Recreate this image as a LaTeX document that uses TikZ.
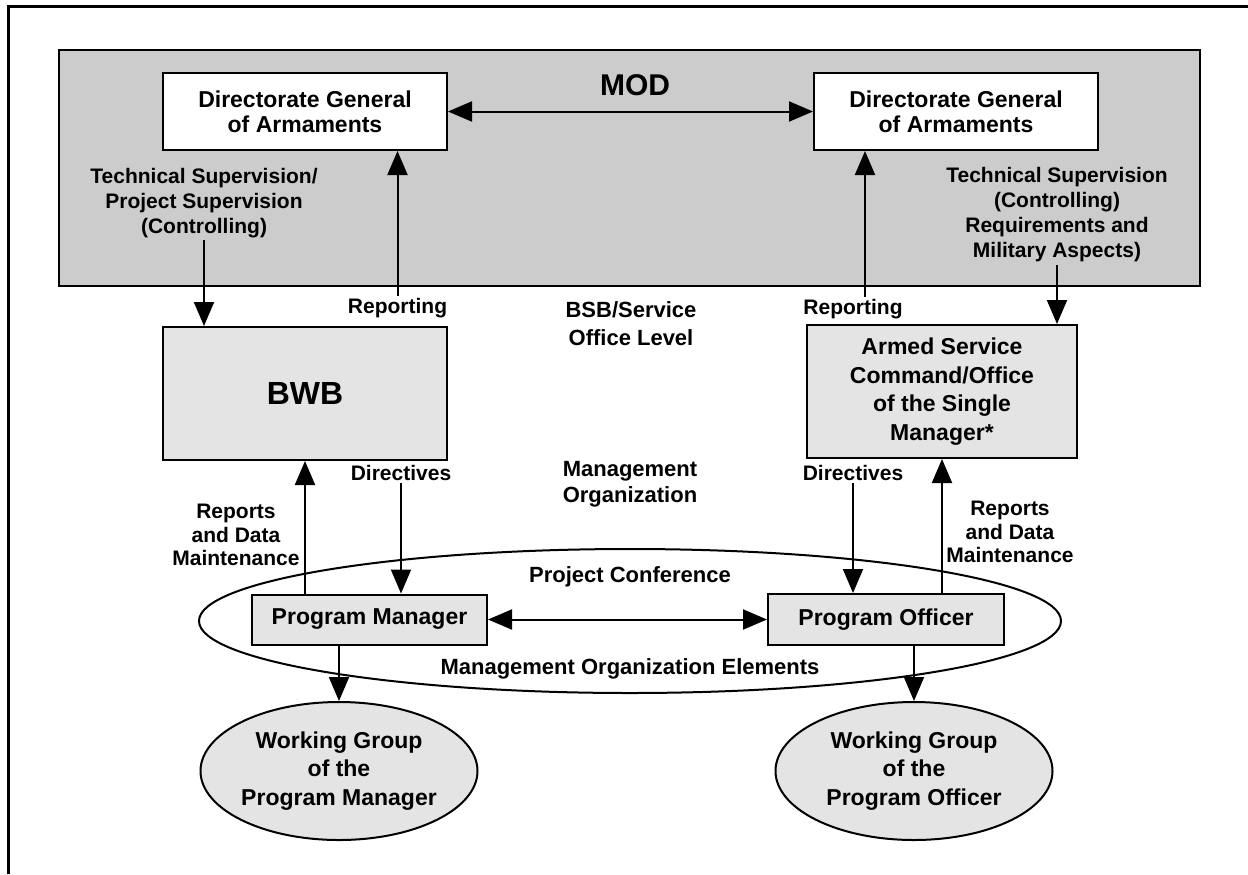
\documentclass[tikz,border=0pt]{standalone}
\usepackage{fontspec}
\setmainfont{Liberation Sans}
\usetikzlibrary{arrows.meta,shapes.geometric}
\definecolor{modgray}{RGB}{204,204,204}
\definecolor{boxgray}{RGB}{228,228,228}

\begin{document}
\begin{tikzpicture}[x=.5pt,y=-.5pt,
    every node/.style={font=\fontsize{10.5}{12.5}\selectfont\bfseries,align=center,inner sep=1pt},
    box/.style={draw,line width=1pt,fill=boxgray,inner sep=2pt,font=\fontsize{11.5}{14.3}\selectfont\bfseries},
    dgabox/.style={box,fill=white,minimum width=142pt,minimum height=38.5pt,font=\fontsize{11.5}{12.5}\selectfont\bfseries},
    group/.style={box,ellipse,minimum width=138.5pt,minimum height=69pt,inner sep=0pt},
    arr/.style={line width=1pt,-{Triangle[length=12pt,width=10pt]}},
    both/.style={line width=1pt,{Triangle[length=12pt,width=10pt]}-{Triangle[length=12pt,width=10pt]}}]
  \useasboundingbox (0,0) rectangle (1248,874);
  \draw[line width=1.5pt] (8,874) -- (8,6) -- (1248,6);

  % ministry level
  \node[draw,line width=1pt,fill=modgray,minimum width=570.5pt,minimum height=118pt,inner sep=0pt] (mod) at (629.5,168) {};
  \node[font=\fontsize{15}{18}\selectfont\bfseries] (modlbl) at (635,85) {MOD};
  \node[dgabox] (dgaL) at (305,111.5) {Directorate General\\of Armaments};
  \node[dgabox] (dgaR) at (956,111.5) {Directorate General\\of Armaments};
  \draw[both] (dgaL.east) -- (dgaR.west);
  \node (tsL) at (204,203) {Technical Supervision/\\Project Supervision\\(Controlling)};
  \node (tsR) at (1057,215) {Technical Supervision\\(Controlling)\\Requirements and\\Military Aspects)};

  % service level
  \node[box,minimum width=142pt,minimum height=66.5pt,font=\fontsize{16}{18}\selectfont\bfseries] (bwb) at (305,393.5) {BWB};
  \node[box,minimum width=135pt,minimum height=66.5pt] (asc) at (942,391.5) {Armed Service\\Command/Office\\of the Single\\Manager*};
  \node (repL) at (397.5,308) {Reporting};
  \node (repR) at (853,309) {Reporting};
  \node[font=\fontsize{11}{14}\selectfont\bfseries] (bsb) at (631,324) {BSB/Service\\Office Level};
  \node[font=\fontsize{11}{13}\selectfont\bfseries] (mgmt) at (630,484) {Management\\Organization};
  \node (dirL) at (401,473) {Directives};
  \node (dirR) at (853,473) {Directives};
  \node[font=\fontsize{10.5}{11.8}\selectfont\bfseries] (rdL) at (236,535) {Reports\\and Data\\Maintenance};
  \node[font=\fontsize{10.5}{11.8}\selectfont\bfseries] (rdR) at (1010,532) {Reports\\and Data\\Maintenance};

  \draw[arr] (tsL.south) -- (tsL.south |- bwb.north);
  \draw[arr] (repL.north) -- (repL.north |- dgaL.south);
  \draw[arr] ([xshift=6pt]repR.north) -- ([xshift=6pt]repR.north |- dgaR.south);
  \draw[arr] (tsR.south) -- (tsR.south |- asc.north);

  % management organization
  \node[draw,ellipse,line width=1pt,minimum width=431pt,minimum height=72pt] (conf) at (630,621) {};
  \node[font=\fontsize{11}{13}\selectfont\bfseries] (conflbl) at (630,577) {Project Conference};
  \node[font=\fontsize{11}{13}\selectfont\bfseries] (elems) at (630,669) {Management Organization Elements};
  \node[box,minimum width=117.5pt,minimum height=25pt] (pm) at (369.5,619.5) {Program Manager};
  \node[box,minimum width=118pt,minimum height=25.5pt] (po) at (886,619.5) {Program Officer};
  \draw[both] (pm.east) -- (po.west);

  \draw[arr] (dirL.south) -- (dirL.south |- pm.north);
  \draw[arr] (pm.north -| bwb.south) -- (bwb.south);
  \draw[arr] (dirR.south) -- (dirR.south |- po.north);
  \draw[arr] (po.north -| asc.south) -- (asc.south);

  % working groups
  \node[group] (wgL) at (339,771) {Working Group\\of the\\Program Manager};
  \node[group] (wgR) at (914,771) {Working Group\\of the\\Program Officer};
  \draw[arr] (wgL.north |- pm.south) -- (wgL.north);
  \draw[arr] (wgR.north |- po.south) -- (wgR.north);
\end{tikzpicture}
\end{document}
